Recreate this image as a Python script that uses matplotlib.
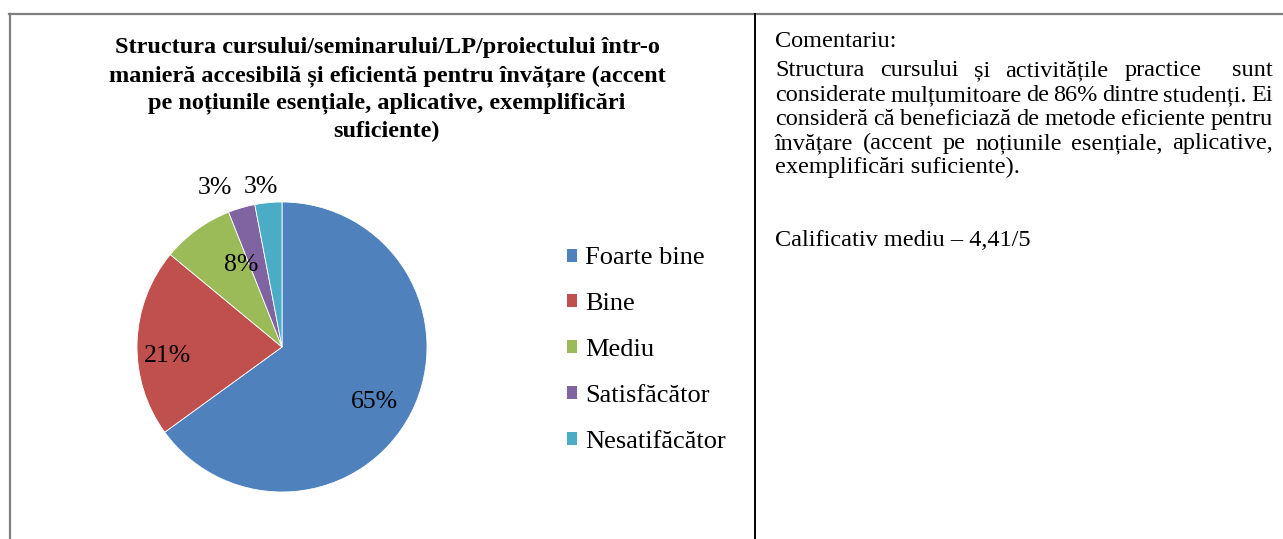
import matplotlib
matplotlib.use('Agg')
import matplotlib.pyplot as plt
from matplotlib.lines import Line2D
from matplotlib.patches import Patch
import numpy as np

W, H = 1283, 539

categories = ['Foarte bine', 'Bine', 'Mediu', 'Satisfăcător', 'Nesatifăcător']
values = [65, 21, 8, 3, 3]
colors = ['#4F81BD', '#C0504D', '#9BBB59', '#8064A2', '#4BACC6']
# where each percent label sits: distance from centre (radius units), angle (deg)
label_dist = [0.74, 0.79, 0.63, 1.19, 1.11]
label_ang = [-31, 184.5, 116.5, 113, 97.5]

title_lines = [
    'Structura cursului/seminarului/LP/proiectului într-o',
    'manieră accesibilă și eficientă pentru învățare (accent',
    'pe noțiunile esențiale, aplicative, exemplificări',
    'suficiente)',
]
comment_head = 'Comentariu:'
comment_lines = [
    'Structura cursului și activitățile practice  sunt',
    'considerate mulțumitoare de 86% dintre studenți. Ei',
    'consideră că beneficiază de metode eficiente pentru',
    'învățare (accent pe noțiunile esențiale, aplicative,',
    'exemplificări suficiente).',
]
rating = 'Calificativ mediu – 4,41/5'

plt.rcParams['font.family'] = ['Liberation Serif', 'DejaVu Serif']

fig = plt.figure(figsize=(W / 100, H / 100), dpi=100)


def fx(x):
    return x / W


def fy(y):
    return 1 - y / H


# table frame
fig.add_artist(Line2D([fx(9), 1], [fy(14), fy(14)], color='#7f7f7f', lw=1.6))
fig.add_artist(Line2D([fx(9.5), fx(9.5)], [fy(14), 0], color='#7f7f7f', lw=1.6))
fig.add_artist(Line2D([fx(754.5), fx(754.5)], [fy(14), 0], color='black', lw=1.4))

# title
for i, line in enumerate(title_lines):
    fig.text(fx(387), fy(48 + i * 27.8), line, ha='center', va='center',
             fontsize=17.5, fontweight='bold')

# pie
cx, cy, r = 282, 347, 145
ax = fig.add_axes([fx(cx - r), fy(cy + r), 2 * r / W, 2 * r / H])
wedges, _, autotexts = ax.pie(values, colors=colors, startangle=90, counterclock=False,
                              autopct=lambda p: f'{p:.0f}%',
                              wedgeprops=dict(edgecolor='white', linewidth=0.6),
                              textprops=dict(fontsize=18.5))
for t, d, a in zip(autotexts, label_dist, label_ang):
    a = np.deg2rad(a)
    t.set_position((d * np.cos(a), d * np.sin(a)))
ax.set_xlim(-1, 1)
ax.set_ylim(-1, 1)
ax.set_aspect('equal')
ax.axis('off')

handles = [Patch(facecolor=c, edgecolor='none') for c in colors]
fig.legend(handles, categories, loc='center left', bbox_to_anchor=(fx(567), fy(350)),
           frameon=False, fontsize=19, handlelength=0.38, handleheight=0.38,
           handletextpad=0.3, labelspacing=0.9, borderpad=0, borderaxespad=0)

# comment text, justified (each space stretched equally, like Word)
fs = 17.5
R = fig.canvas.get_renderer()


def text_w(s):
    t = fig.text(0, 0, s, fontsize=fs)
    w = t.get_window_extent(R).width
    t.remove()
    return w


def put(x, y, s):
    # y is the baseline in pixels from the top
    fig.text(fx(x), fy(y), s, fontsize=fs, va='baseline')


x0, x1 = 775, 1273
put(x0, 47, comment_head)
baselines = [76, 101, 125, 149, 173]
for k, (line, y) in enumerate(zip(comment_lines, baselines)):
    if k == len(comment_lines) - 1:
        put(x0, y, line)
        continue
    parts = line.split(' ')
    words = [p for p in parts if p]
    n_gaps = len(parts) - 1
    gap = (x1 - x0 - sum(text_w(wd) for wd in words)) / n_gaps
    x = x0
    for p in parts:
        if p:
            put(x, y, p)
            x += text_w(p)
        x += gap
put(x0, 246, rating)

fig.savefig('out.png', dpi=100)
